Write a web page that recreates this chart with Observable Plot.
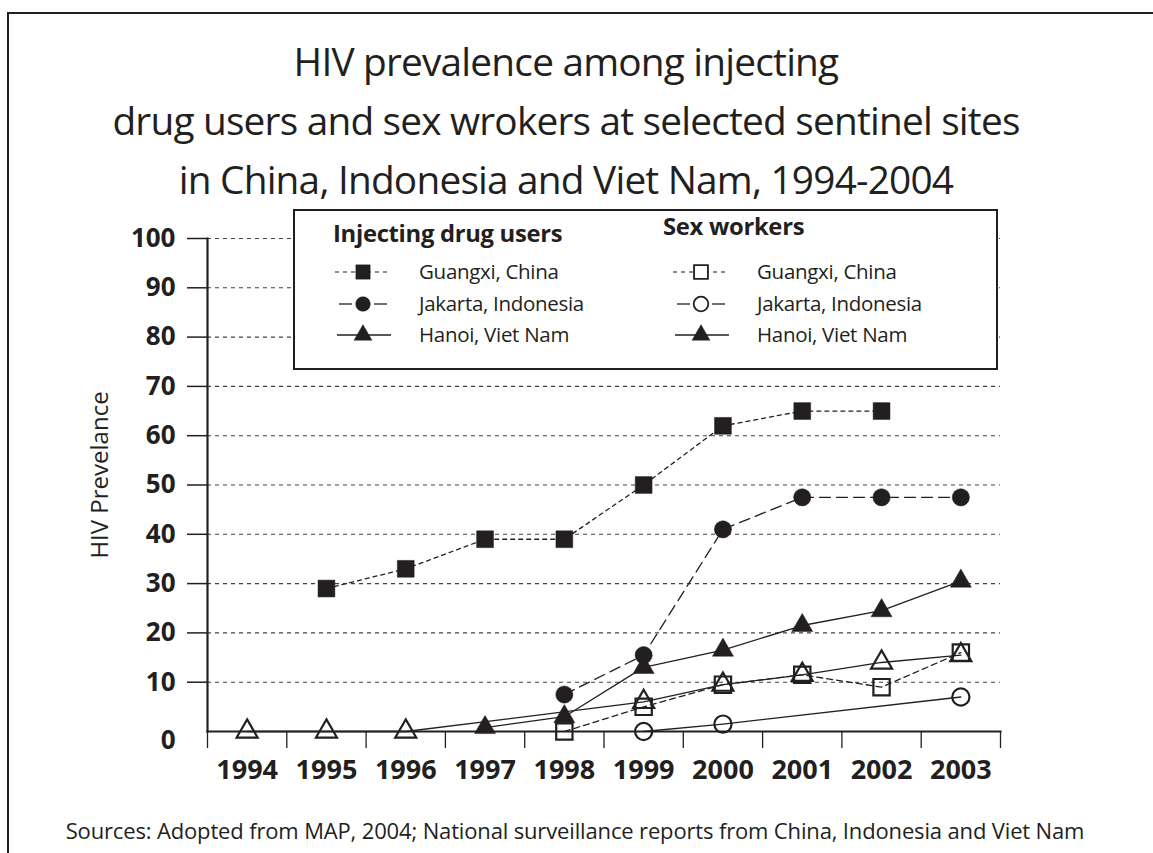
<!DOCTYPE html>
<html>
<head>
<meta charset="utf-8">
<script src="https://cdn.jsdelivr.net/npm/d3@7"></script>
<script src="https://cdn.jsdelivr.net/npm/@observablehq/plot@0.6"></script>
<style>
  body { margin: 0; background: #fff; }
  #wrap { position: relative; width: 1153px; height: 853px; overflow: hidden; font-family: "Open Sans", sans-serif; color: #231f20; background: #fff; }
  #frame { position: absolute; left: 7px; top: 12px; width: 1200px; height: 900px; border-top: 2px solid #231f20; border-left: 2px solid #231f20; }
  #title { position: absolute; left: 0; width: 1132px; top: 32px; text-align: center; font-size: 38.8px; line-height: 59px; letter-spacing: -0.8px; white-space: nowrap; }
  #chart { position: absolute; left: 0; top: 200px; }
  #legend { position: absolute; left: 293px; top: 209px; width: 701px; height: 157px; border: 2px solid #231f20; background: #fff; }
  #legend .hdr { position: absolute; font-weight: bold; font-size: 23.8px; white-space: nowrap; letter-spacing: -0.3px; }
  #legend .lab { position: absolute; font-size: 20.5px; white-space: nowrap; letter-spacing: -0.3px; }
  #legend svg { position: absolute; }
  #caption { position: absolute; left: 0; width: 1150px; top: 815px; text-align: center; font-size: 22px; letter-spacing: -0.15px; white-space: nowrap; }
</style>
</head>
<body>
<div id="wrap">
  <div id="frame"></div>
  <div id="title">HIV prevalence among injecting<br>drug users and sex wrokers at selected sentinel sites<br>in China, Indonesia and Viet Nam, 1994-2004</div>
  <div id="chart"></div>
  <div id="legend"></div>
  <div id="caption">Sources: Adopted from MAP, 2004; National surveillance reports from China, Indonesia and Viet Nam</div>
</div>
<script>
// ---- data ----
const years = [1994, 1995, 1996, 1997, 1998, 1999, 2000, 2001, 2002, 2003];
const yTicks = [10, 20, 30, 40, 50, 60, 70, 80, 90, 100];
const groups = ["Injecting drug users", "Sex workers"];
const sites = ["Guangxi, China", "Jakarta, Indonesia", "Hanoi, Viet Nam"];
const yLabel = "HIV Prevelance";

// Injecting drug users
const iduGuangxi = [null, 29, 33, 39, 39, 50, 62, 65, 65, null];
const iduJakarta = [null, null, null, null, 7.5, 15.5, 41, 47.5, 47.5, 47.5];
const iduHanoi   = [null, null, null, 0.8, 3, 13, 16.5, 21.5, 24.5, 30.5];
// Sex workers
const swGuangxi  = [null, null, null, null, 0, 5, 9.5, 11.5, 9, 16];
const swJakarta  = [null, null, null, null, null, 0, 1.5, null, null, 7];
const swHanoi    = [0, 0, 0, null, null, 6, 9.5, 11.5, 14, 15.5];

const seriesValues = {
  "idu-g": iduGuangxi, "idu-j": iduJakarta, "idu-h": iduHanoi,
  "sw-g": swGuangxi, "sw-j": swJakarta, "sw-h": swHanoi
};

// ---- styles (kept apart from data) ----
const ink = "#231f20";
const styles = {
  "idu-g": { group: 0, site: 0, symbol: "square",   r: 9.5, filled: true,  dash: "4,4",  legendDash: "short" },
  "idu-j": { group: 0, site: 1, symbol: "circle",   r: 8.6, filled: true,  dash: "11,6", legendDash: "long" },
  "idu-h": { group: 0, site: 2, symbol: "triangle", r: 7.8, filled: true,  dash: null,   legendDash: "solid" },
  "sw-g":  { group: 1, site: 0, symbol: "square",   r: 9.2, filled: false, dash: "6,4",  legendDash: "short" },
  "sw-j":  { group: 1, site: 1, symbol: "circle",   r: 8.6, filled: false, dash: null,   legendDash: "long" },
  "sw-h":  { group: 1, site: 2, symbol: "triangle", r: 7.8, filled: false, dash: null,   legendDash: "solid", legendFilled: true }
};

const rows = [];
for (const key of Object.keys(seriesValues)) {
  seriesValues[key].forEach((v, i) => { if (v != null) rows.push({ key, year: years[i], value: v }); });
}

const lineMarks = Object.keys(styles).map(key => Plot.line(rows.filter(d => d.key === key), {
  x: "year", y: "value", stroke: ink, strokeWidth: 1.3,
  strokeDasharray: styles[key].dash || undefined
}));
const dotMarks = Object.keys(styles).map(key => {
  const s = styles[key];
  return Plot.dot(rows.filter(d => d.key === key), {
    x: "year", y: "value", symbol: s.symbol, r: s.r,
    fill: s.filled ? ink : "none", stroke: ink, strokeWidth: s.filled ? 0.5 : 2.2
  });
});

const bounds = d3.range(years.length + 1).map(i => years[0] - 0.5 + i);

const chart = Plot.plot({
  width: 1153,
  height: 600,
  marginLeft: 207,
  marginRight: 153,
  marginTop: 38,
  marginBottom: 69,
  style: { fontFamily: "Open Sans, sans-serif", color: ink, background: "transparent" },
  x: { type: "linear", domain: [years[0] - 0.5, years[years.length - 1] + 0.5] },
  y: { domain: [0, 100] },
  marks: [
    Plot.gridY(yTicks, { stroke: ink, strokeOpacity: 0.85, strokeDasharray: "4,4", strokeWidth: 1.1 }),
    Plot.axisY(yTicks, { tickSize: 20, tickPadding: 12, fontSize: 26, fontWeight: "bold", label: null, strokeWidth: 1.5, tickFormat: d => String(d) }),
    Plot.axisY([0], { tickSize: 0, tickPadding: 32, dy: 9, fontSize: 26, fontWeight: "bold", label: null, tickFormat: d => String(d) }),
    Plot.axisX(bounds, { tickSize: 17, tickPadding: 0, label: null, strokeWidth: 1.3, tickFormat: () => "" }),
    Plot.axisX(years, { tickSize: 0, tickPadding: 28, fontSize: 27, fontWeight: "bold", label: null, tickFormat: d => String(d) }),
    Plot.text([yLabel], { frameAnchor: "left", textAnchor: "middle", rotate: -90, dx: -107, dy: -10, fontSize: 24, fill: ink }),
    ...lineMarks,
    Plot.frame({ anchor: "left", stroke: ink, strokeWidth: 2.2 }),
    Plot.frame({ anchor: "bottom", stroke: ink, strokeWidth: 2.2 }),
    ...dotMarks
  ]
});
document.getElementById("chart").appendChild(chart);

// ---- legend (HTML box with small SVG swatches) ----
const legend = d3.select("#legend");
const colLeft = [38, 368];      // header left per group
const hdrTop = [6, -1];
const swLeft = [38, 376];       // swatch svg left per group
const labLeft = [124, 462];     // label left per group
const rowMid = [61, 93, 124];   // row centers

groups.forEach((g, gi) => {
  legend.append("div").attr("class", "hdr").style("left", colLeft[gi] + "px").style("top", hdrTop[gi] + "px").text(g);
});

Object.keys(styles).forEach(key => {
  const s = styles[key];
  const gi = s.group, si = s.site;
  legend.append("div").attr("class", "lab")
    .style("left", labLeft[gi] + "px").style("top", (rowMid[si] - 15) + "px")
    .text(sites[si]);
  const svg = legend.append("svg").attr("width", 64).attr("height", 30)
    .style("left", swLeft[gi] + "px").style("top", (rowMid[si] - 15) + "px");
  const cx = 30, cy = 15;
  if (s.legendDash === "short") {
    svg.append("line").attr("x1", 2).attr("x2", 58).attr("y1", cy).attr("y2", cy)
      .attr("stroke", ink).attr("stroke-width", 1.2).attr("stroke-dasharray", "4,4");
  } else if (s.legendDash === "long") {
    [[6, 19], [41, 54]].forEach(([a, b]) => svg.append("line").attr("x1", a).attr("x2", b).attr("y1", cy).attr("y2", cy)
      .attr("stroke", ink).attr("stroke-width", 1.3));
  } else {
    svg.append("line").attr("x1", 4).attr("x2", 58).attr("y1", cy).attr("y2", cy)
      .attr("stroke", ink).attr("stroke-width", 1.3);
  }
  const sym = { square: d3.symbolSquare, circle: d3.symbolCircle, triangle: d3.symbolTriangle }[s.symbol];
  const filled = s.filled || s.legendFilled;
  const r = s.r * 0.85;
  svg.append("path").attr("d", d3.symbol(sym, Math.PI * r * r)())
    .attr("transform", `translate(${cx},${cy})`)
    .attr("fill", filled ? ink : "#fff").attr("stroke", ink).attr("stroke-width", filled ? 0.5 : 1.8);
});
</script>
</body>
</html>
